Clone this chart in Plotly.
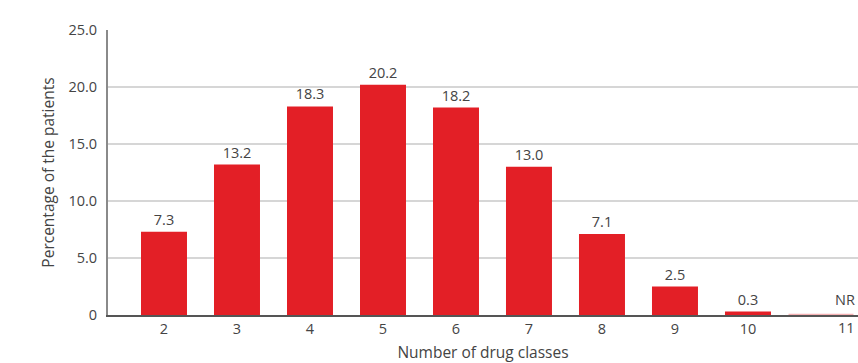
import plotly.graph_objects as go

categories = ["2", "3", "4", "5", "6", "7", "8", "9", "10", "11"]
values = [7.3, 13.2, 18.3, 20.2, 18.2, 13.0, 7.1, 2.5, 0.3, 0.1]
value_labels = ["7.3", "13.2", "18.3", "20.2", "18.2", "13.0", "7.1", "2.5", "0.3", ""]
nr_category = "11"
nr_label = "NR"
y_tickvals = [0, 5, 10, 15, 20, 25]
y_ticktext = ["0", "5.0", "10.0", "15.0", "20.0", "25.0"]

FONT = "Open Sans"
TXT = "#444444"
FS = 14.5

widths = [0.63] * (len(categories) - 1) + [0.89]
colors = ["#e31f26"] * (len(categories) - 1) + ["rgba(227,31,38,0.35)"]
nr_index = categories.index(nr_category)

fig = go.Figure()
fig.add_trace(go.Bar(
    x=categories, y=values, text=value_labels, textposition="outside",
    width=widths, marker=dict(color=colors, line=dict(width=0)),
    textfont=dict(family=FONT, size=FS, color=TXT), cliponaxis=False,
))
fig.add_annotation(x=nr_index, y=0, text=nr_label, showarrow=False,
                   yanchor="bottom", yshift=4, xshift=24,
                   font=dict(family=FONT, size=FS, color=TXT))
fig.add_annotation(x=nr_index, y=0, text=nr_category, showarrow=False,
                   yanchor="top", yshift=-1, xshift=26,
                   font=dict(family=FONT, size=FS, color=TXT))

tick_text_x = categories[:-1] + [""]
fig.update_layout(
    width=858, height=363,
    margin=dict(l=108, r=0, t=30, b=48),
    paper_bgcolor="white", plot_bgcolor="white",
    showlegend=False, bargap=0.37,
    xaxis=dict(
        type="category", range=[-0.767, 9.507],
        tickmode="array", tickvals=categories, ticktext=tick_text_x,
        showline=True, linecolor="#555555", linewidth=1.5,
        ticks="", showgrid=False,
        tickfont=dict(family=FONT, size=FS, color=TXT),
        title=dict(text="Number of drug classes", standoff=10,
                   font=dict(family=FONT, size=15.5, color=TXT)),
    ),
    yaxis=dict(
        range=[0, 25], tickmode="array", tickvals=y_tickvals, ticktext=y_ticktext,
        showline=True, linecolor="#8a8a8a", linewidth=2,
        showgrid=True, gridcolor="#d6d6d6", gridwidth=1.5,
        zeroline=False, ticks="", ticklabelstandoff=6,
        tickfont=dict(family=FONT, size=FS, color=TXT),
        title=dict(text="Percentage of the patients", standoff=10,
                   font=dict(family=FONT, size=15.5, color=TXT)),
    ),
)

fig.write_html("out.html")
